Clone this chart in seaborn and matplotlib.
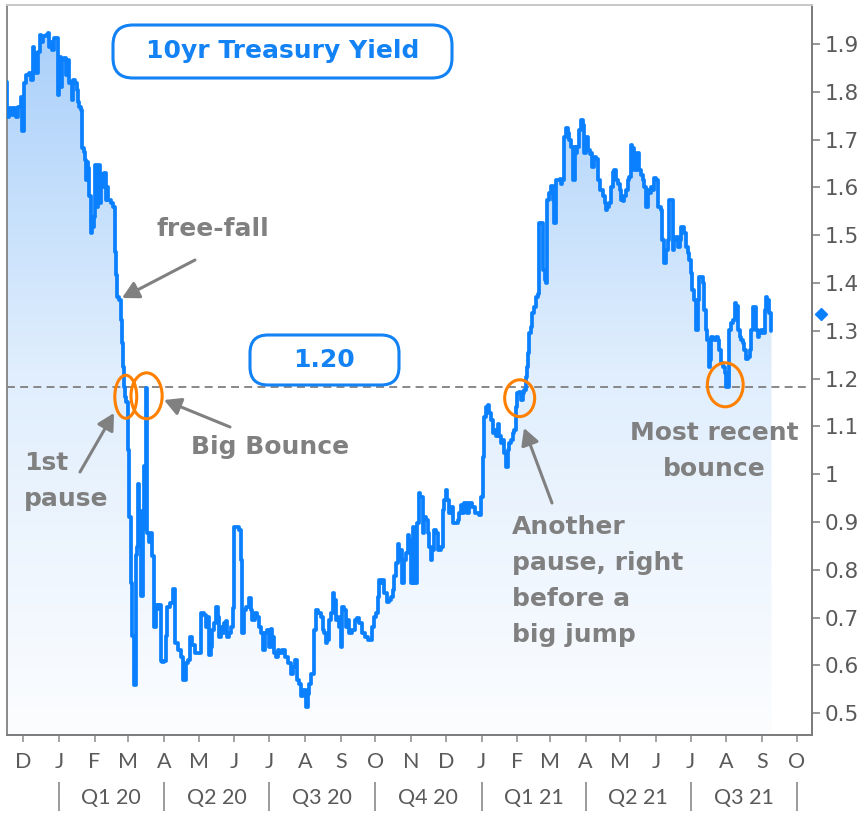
import numpy as np
import pandas as pd
import matplotlib
matplotlib.use("Agg")
import matplotlib.pyplot as plt
import matplotlib.dates as mdates
from matplotlib.patches import Ellipse, FancyBboxPatch
from matplotlib.colors import LinearSegmentedColormap
from matplotlib.transforms import IdentityTransform, blended_transform_factory
import seaborn as sns

# ---------------- data ----------------
dates = [
    "2019-11-17", "2019-11-18", "2019-11-20", "2019-11-23", "2019-11-24", "2019-11-26", "2019-11-28", "2019-11-30",
    "2019-12-01", "2019-12-03", "2019-12-05", "2019-12-07", "2019-12-09", "2019-12-10", "2019-12-11", "2019-12-12",
    "2019-12-13", "2019-12-15", "2019-12-16", "2019-12-18", "2019-12-19", "2019-12-22", "2019-12-23", "2019-12-24",
    "2019-12-26", "2019-12-27", "2019-12-29", "2019-12-30",
    "2020-01-01", "2020-01-02", "2020-01-03", "2020-01-05", "2020-01-06", "2020-01-08", "2020-01-09", "2020-01-11",
    "2020-01-12", "2020-01-13", "2020-01-14", "2020-01-16", "2020-01-17", "2020-01-18", "2020-01-19", "2020-01-21",
    "2020-01-22", "2020-01-23", "2020-01-24", "2020-01-25", "2020-01-26", "2020-01-27", "2020-01-28", "2020-01-29",
    "2020-01-31",
    "2020-02-01", "2020-02-02", "2020-02-03", "2020-02-05", "2020-02-06", "2020-02-07", "2020-02-09", "2020-02-10",
    "2020-02-11", "2020-02-12", "2020-02-14", "2020-02-16", "2020-02-18", "2020-02-19", "2020-02-20", "2020-02-21",
    "2020-02-23", "2020-02-24", "2020-02-25", "2020-02-26", "2020-02-27", "2020-02-28", "2020-02-29",
    "2020-03-01", "2020-03-03", "2020-03-04", "2020-03-05", "2020-03-07", "2020-03-08", "2020-03-09", "2020-03-10",
    "2020-03-11", "2020-03-13", "2020-03-14", "2020-03-16", "2020-03-17", "2020-03-18", "2020-03-20", "2020-03-21",
    "2020-03-23", "2020-03-24", "2020-03-26", "2020-03-27", "2020-03-29", "2020-03-30", "2020-03-31",
    "2020-04-02", "2020-04-03", "2020-04-05", "2020-04-08", "2020-04-09", "2020-04-12", "2020-04-15", "2020-04-16",
    "2020-04-19", "2020-04-21", "2020-04-22", "2020-04-25", "2020-04-26", "2020-04-29",
    "2020-05-02", "2020-05-04", "2020-05-07", "2020-05-08", "2020-05-09", "2020-05-11", "2020-05-12", "2020-05-14",
    "2020-05-15", "2020-05-17", "2020-05-18", "2020-05-20", "2020-05-21", "2020-05-22", "2020-05-24", "2020-05-25",
    "2020-05-27", "2020-05-28", "2020-05-30", "2020-05-31",
    "2020-06-02", "2020-06-04", "2020-06-06", "2020-06-07", "2020-06-08", "2020-06-10", "2020-06-12", "2020-06-15",
    "2020-06-16", "2020-06-17", "2020-06-20", "2020-06-22", "2020-06-23", "2020-06-25", "2020-06-26", "2020-06-29",
    "2020-06-30",
    "2020-07-02", "2020-07-03", "2020-07-05", "2020-07-06", "2020-07-08", "2020-07-09", "2020-07-11", "2020-07-13",
    "2020-07-16", "2020-07-19", "2020-07-21", "2020-07-22", "2020-07-25", "2020-07-26", "2020-07-28", "2020-07-29",
    "2020-08-01", "2020-08-03", "2020-08-04", "2020-08-05", "2020-08-08", "2020-08-10", "2020-08-11", "2020-08-14",
    "2020-08-16", "2020-08-17", "2020-08-18", "2020-08-20", "2020-08-21", "2020-08-23", "2020-08-24", "2020-08-26",
    "2020-08-27", "2020-08-29", "2020-08-30", "2020-08-31",
    "2020-09-02", "2020-09-03", "2020-09-05", "2020-09-06", "2020-09-08", "2020-09-09", "2020-09-12", "2020-09-15",
    "2020-09-16", "2020-09-18", "2020-09-21", "2020-09-24", "2020-09-25", "2020-09-28", "2020-09-29",
    "2020-10-01", "2020-10-02", "2020-10-04", "2020-10-05", "2020-10-07", "2020-10-08", "2020-10-09", "2020-10-11",
    "2020-10-12", "2020-10-14", "2020-10-15", "2020-10-17", "2020-10-18", "2020-10-20", "2020-10-21", "2020-10-22",
    "2020-10-24", "2020-10-25", "2020-10-27", "2020-10-28", "2020-10-30", "2020-10-31",
    "2020-11-02", "2020-11-03", "2020-11-04", "2020-11-06", "2020-11-07", "2020-11-08", "2020-11-10", "2020-11-12",
    "2020-11-13", "2020-11-15", "2020-11-16", "2020-11-17", "2020-11-19", "2020-11-20", "2020-11-22", "2020-11-23",
    "2020-11-25", "2020-11-26", "2020-11-28", "2020-11-29", "2020-11-30",
    "2020-12-02", "2020-12-03", "2020-12-05", "2020-12-06", "2020-12-08", "2020-12-11", "2020-12-12", "2020-12-13",
    "2020-12-15", "2020-12-16", "2020-12-18", "2020-12-21", "2020-12-22", "2020-12-25", "2020-12-28", "2020-12-31",
    "2021-01-01", "2021-01-03", "2021-01-04", "2021-01-06", "2021-01-07", "2021-01-08", "2021-01-10", "2021-01-11",
    "2021-01-13", "2021-01-14", "2021-01-16", "2021-01-17", "2021-01-18", "2021-01-20", "2021-01-21", "2021-01-23",
    "2021-01-24", "2021-01-26", "2021-01-27", "2021-01-29", "2021-01-30", "2021-01-31",
    "2021-02-02", "2021-02-03", "2021-02-05", "2021-02-06", "2021-02-08", "2021-02-09", "2021-02-10", "2021-02-11",
    "2021-02-12", "2021-02-13", "2021-02-15", "2021-02-16", "2021-02-18", "2021-02-19", "2021-02-21", "2021-02-22",
    "2021-02-24", "2021-02-25", "2021-02-26", "2021-02-28",
    "2021-03-01", "2021-03-03", "2021-03-04", "2021-03-06", "2021-03-07", "2021-03-09", "2021-03-10", "2021-03-11",
    "2021-03-13", "2021-03-14", "2021-03-16", "2021-03-17", "2021-03-19", "2021-03-20", "2021-03-22", "2021-03-23",
    "2021-03-24", "2021-03-26", "2021-03-27", "2021-03-29", "2021-03-30",
    "2021-04-01", "2021-04-02", "2021-04-04", "2021-04-05", "2021-04-06", "2021-04-08", "2021-04-09", "2021-04-11",
    "2021-04-12", "2021-04-15", "2021-04-17", "2021-04-18", "2021-04-19", "2021-04-21", "2021-04-22", "2021-04-24",
    "2021-04-25", "2021-04-27", "2021-04-28", "2021-04-30",
    "2021-05-01", "2021-05-03", "2021-05-04", "2021-05-05", "2021-05-07", "2021-05-08", "2021-05-10", "2021-05-11",
    "2021-05-12", "2021-05-14", "2021-05-15", "2021-05-17", "2021-05-18", "2021-05-20", "2021-05-21", "2021-05-23",
    "2021-05-24", "2021-05-26", "2021-05-27", "2021-05-28", "2021-05-30", "2021-05-31",
    "2021-06-02", "2021-06-03", "2021-06-05", "2021-06-06", "2021-06-07", "2021-06-09", "2021-06-10", "2021-06-12",
    "2021-06-13", "2021-06-15", "2021-06-16", "2021-06-18", "2021-06-19", "2021-06-21", "2021-06-22", "2021-06-23",
    "2021-06-25", "2021-06-26", "2021-06-28", "2021-06-29",
    "2021-07-01", "2021-07-02", "2021-07-03", "2021-07-05", "2021-07-06", "2021-07-08", "2021-07-09", "2021-07-11",
    "2021-07-12", "2021-07-14", "2021-07-15", "2021-07-16", "2021-07-17", "2021-07-18", "2021-07-19", "2021-07-21",
    "2021-07-22", "2021-07-24", "2021-07-25", "2021-07-27", "2021-07-28", "2021-07-30", "2021-07-31",
    "2021-08-01", "2021-08-03", "2021-08-04", "2021-08-06", "2021-08-07", "2021-08-09", "2021-08-10", "2021-08-12",
    "2021-08-13", "2021-08-14", "2021-08-16", "2021-08-17", "2021-08-19", "2021-08-20", "2021-08-22", "2021-08-23",
    "2021-08-25", "2021-08-26", "2021-08-27", "2021-08-29", "2021-08-30",
    "2021-09-01", "2021-09-02", "2021-09-04", "2021-09-05", "2021-09-06", "2021-09-08", "2021-09-09",
]

yields = [
    1.821, 1.748, 1.766, 1.751, 1.766, 1.748, 1.769, 1.790,
    1.717, 1.818, 1.835, 1.839, 1.825, 1.894, 1.860, 1.881,
    1.839, 1.884, 1.919, 1.905, 1.917, 1.919, 1.924, 1.894,
    1.905, 1.887, 1.912, 1.912,
    1.793, 1.873, 1.811, 1.867, 1.870, 1.835, 1.867, 1.818,
    1.821, 1.783, 1.825, 1.818, 1.804, 1.779, 1.769, 1.762,
    1.682, 1.675, 1.657, 1.615, 1.654, 1.640, 1.581, 1.504,
    1.518,
    1.539, 1.647, 1.560, 1.647, 1.567, 1.601, 1.629, 1.631,
    1.574, 1.601, 1.574, 1.567, 1.560, 1.465, 1.417, 1.371,
    1.364, 1.323, 1.274, 1.225, 1.183, 1.162, 1.152,
    1.051, 0.911, 0.773, 0.661, 0.559, 0.830, 0.848, 0.979,
    0.923, 0.745, 0.885, 1.017, 1.180, 0.877, 0.858, 0.877,
    0.829, 0.681, 0.726, 0.718, 0.726, 0.609, 0.607,
    0.609, 0.661, 0.723, 0.730, 0.760, 0.646, 0.632, 0.618,
    0.569, 0.604, 0.611, 0.660, 0.643, 0.626,
    0.626, 0.709, 0.706, 0.681, 0.702, 0.622, 0.639, 0.674,
    0.688, 0.723, 0.702, 0.660, 0.681, 0.667, 0.688, 0.692,
    0.660, 0.667, 0.681, 0.720,
    0.890, 0.890, 0.883, 0.821, 0.667, 0.716, 0.723, 0.740,
    0.716, 0.695, 0.709, 0.702, 0.681, 0.667, 0.632, 0.667,
    0.674,
    0.639, 0.677, 0.660, 0.625, 0.618, 0.632, 0.625, 0.632,
    0.618, 0.604, 0.583, 0.597, 0.611, 0.569, 0.562, 0.535,
    0.548, 0.514, 0.541, 0.562, 0.583, 0.674, 0.716, 0.709,
    0.702, 0.674, 0.667, 0.646, 0.653, 0.695, 0.709, 0.751,
    0.737, 0.695, 0.702, 0.681,
    0.639, 0.723, 0.716, 0.681, 0.695, 0.667, 0.674, 0.695,
    0.699, 0.688, 0.667, 0.660, 0.653, 0.653, 0.681,
    0.702, 0.709, 0.744, 0.779, 0.772, 0.779, 0.751, 0.751,
    0.733, 0.737, 0.744, 0.758, 0.786, 0.814, 0.855, 0.821,
    0.842, 0.772, 0.821, 0.835, 0.873, 0.862,
    0.772, 0.890, 0.772, 0.772, 0.897, 0.960, 0.953, 0.876,
    0.911, 0.904, 0.876, 0.848, 0.820, 0.841, 0.883, 0.876,
    0.841, 0.841, 0.848, 0.925, 0.946,
    0.967, 0.946, 0.918, 0.932, 0.897, 0.897, 0.904, 0.918,
    0.936, 0.918, 0.939, 0.918, 0.939, 0.932, 0.918, 0.915,
    0.953, 1.037, 1.120, 1.141, 1.145, 1.127, 1.113, 1.086,
    1.093, 1.079, 1.106, 1.079, 1.065, 1.072, 1.044, 1.016,
    1.051, 1.065, 1.072, 1.086, 1.093, 1.141,
    1.169, 1.172, 1.155, 1.169, 1.176, 1.204, 1.225, 1.253,
    1.295, 1.309, 1.337, 1.350, 1.371, 1.378, 1.525, 1.525,
    1.427, 1.406, 1.399, 1.574,
    1.588, 1.602, 1.574, 1.525, 1.615, 1.615, 1.618, 1.608,
    1.615, 1.706, 1.724, 1.713, 1.699, 1.685, 1.615, 1.685,
    1.671, 1.685, 1.720, 1.741, 1.731,
    1.671, 1.706, 1.678, 1.670, 1.671, 1.643, 1.664, 1.660,
    1.615, 1.595, 1.581, 1.567, 1.553, 1.560, 1.567, 1.601,
    1.633, 1.636, 1.615, 1.608,
    1.595, 1.574, 1.571, 1.581, 1.595, 1.615, 1.622, 1.689,
    1.682, 1.636, 1.636, 1.671, 1.636, 1.626, 1.615, 1.601,
    1.560, 1.595, 1.588, 1.601, 1.595, 1.619,
    1.615, 1.560, 1.560, 1.553, 1.490, 1.441, 1.469, 1.490,
    1.574, 1.574, 1.469, 1.490, 1.497, 1.476, 1.490, 1.518,
    1.518, 1.504, 1.476, 1.462,
    1.448, 1.420, 1.385, 1.364, 1.302, 1.364, 1.413, 1.413,
    1.399, 1.344, 1.302, 1.281, 1.225, 1.239, 1.288, 1.285,
    1.281, 1.288, 1.281, 1.260, 1.232, 1.225, 1.211,
    1.183, 1.183, 1.302, 1.316, 1.323, 1.358, 1.351, 1.302,
    1.288, 1.281, 1.274, 1.260, 1.242, 1.246, 1.260, 1.302,
    1.350, 1.350, 1.302, 1.288, 1.295,
    1.302, 1.295, 1.344, 1.371, 1.364, 1.337, 1.299,
]

title_text = "10yr Treasury Yield"
level_value = 1.183
level_text = "1.20"
latest_value = 1.336

y_ticks = [0.5, 0.6, 0.7, 0.8, 0.9, 1.0, 1.1, 1.2, 1.3, 1.4, 1.5, 1.6, 1.7, 1.8, 1.9]
y_tick_labels = ["0.5", "0.6", "0.7", "0.8", "0.9", "1", "1.1", "1.2", "1.3", "1.4", "1.5", "1.6", "1.7", "1.8", "1.9"]

month_ticks = ["2019-12-01", "2020-01-01", "2020-02-01", "2020-03-01", "2020-04-01", "2020-05-01",
               "2020-06-01", "2020-07-01", "2020-08-01", "2020-09-01", "2020-10-01", "2020-11-01",
               "2020-12-01", "2021-01-01", "2021-02-01", "2021-03-01", "2021-04-01", "2021-05-01",
               "2021-06-01", "2021-07-01", "2021-08-01", "2021-09-01", "2021-10-01"]
month_labels = ["D", "J", "F", "M", "A", "M", "J", "J", "A", "S", "O", "N",
                "D", "J", "F", "M", "A", "M", "J", "J", "A", "S", "O"]

quarter_bounds = ["2020-01-01", "2020-04-01", "2020-07-01", "2020-10-01",
                  "2021-01-01", "2021-04-01", "2021-07-01", "2021-10-01"]
quarter_labels = ["Q1 20", "Q2 20", "Q3 20", "Q4 20", "Q1 21", "Q2 21", "Q3 21"]

# highlighted spots: (center date, center value, width days, height)
circles = [
    ("2020-02-28", 1.162, 19, 0.090),
    ("2020-03-17", 1.164, 27, 0.096),
    ("2021-02-03", 1.159, 26, 0.077),
    ("2021-07-31", 1.187, 31, 0.092),
]

# ---------------- style ----------------
LINE = "#0a80ff"
BOX = "#1282f5"
ORANGE = "#ff8000"
NOTE = "#808080"
AXIS_TXT = "#5a5a5a"

sns.set_style("white")
plt.rcParams["font.family"] = ["DejaVu Sans"]

fig = plt.figure(figsize=(8.64, 8.13), dpi=100)
ax = fig.add_axes([7 / 864, 78 / 813, 805 / 864, 730 / 813])

df = pd.DataFrame({"date": pd.to_datetime(dates), "yield": yields})

y0, y1 = 0.4544, 1.9816
x0, x1 = pd.Timestamp("2019-11-17 04:00"), pd.Timestamp("2021-10-14 02:00")

# gradient area under the line
xnum = mdates.date2num(df["date"])
poly = ax.fill_between(xnum, df["yield"].to_numpy(), y0, step="mid",
                       facecolor="none", edgecolor="none")
clip = poly.get_paths()[0]
grad = np.linspace(0, 1, 256).reshape(-1, 1)
cmap = LinearSegmentedColormap.from_list("fade", ["#fcfdff", "#e0eefd", "#a6cefa"])
im = ax.imshow(grad, extent=[xnum[0], xnum[-1], y0, y1], origin="lower",
               aspect="auto", cmap=cmap, zorder=1, interpolation="bilinear")
im.set_clip_path(clip, transform=ax.transData)

sns.lineplot(data=df, x="date", y="yield", color=LINE, linewidth=2.7,
             estimator=None, sort=False, ax=ax, zorder=3, drawstyle="steps-mid")

ax.axhline(level_value, color="#7f7f7f", lw=1.3, ls=(0, (4.4, 2.9)), zorder=2)

ax.set_xlim(x0, x1)
ax.set_ylim(y0, y1)
ax.set_xlabel("")
ax.set_ylabel("")

# spines
for side, col in [("left", "#8a8a8a"), ("top", "#c8c8c8"), ("right", "#7a7a7a"), ("bottom", "#7a7a7a")]:
    ax.spines[side].set_visible(True)
    ax.spines[side].set_color(col)
    ax.spines[side].set_linewidth(1.4)

# y axis on the right
ax.yaxis.tick_right()
ax.set_yticks(y_ticks)
ax.set_yticklabels(y_tick_labels)
ax.tick_params(axis="y", which="major", left=False, right=True, direction="out",
               length=5.8, width=1.1, color="#7a7a7a", pad=3.0,
               labelsize=15.5, labelcolor=AXIS_TXT)

# x axis months
ax.set_xticks(mdates.date2num(pd.to_datetime(month_ticks)))
ax.set_xticklabels(month_labels)
ax.tick_params(axis="x", which="major", bottom=True, direction="out",
               length=5, width=1.1, color="#8a8a8a", pad=7,
               labelsize=15.5, labelcolor=AXIS_TXT)
for lbl in ax.get_xticklabels():
    lbl.set_fontfamily("Lato")

# quarter row
xtrans = ax.get_xaxis_transform()
qb = pd.to_datetime(quarter_bounds)
ax.vlines(mdates.date2num(qb), -0.064, -0.104, transform=xtrans, colors="#8a8a8a",
          lw=1.2, clip_on=False)
for a, b, lab in zip(qb[:-1], qb[1:], quarter_labels):
    mid = a + (b - a) / 2
    ax.text(mdates.date2num(mid), -0.086, lab, transform=xtrans, ha="center", va="center",
            fontsize=15.5, family="Lato", color=AXIS_TXT, clip_on=False)

# latest-value marker on the right axis
mtrans = blended_transform_factory(ax.transAxes, ax.transData)
ax.plot([1.0112], [latest_value], marker="D", ms=6.5, color=LINE, transform=mtrans,
        clip_on=False, zorder=6)

# orange circles
for d, v, w, h in circles:
    ax.add_patch(Ellipse((mdates.date2num(pd.Timestamp(d)), v), w, h, fill=False,
                         ec=ORANGE, lw=2.2, zorder=5, clip_on=False))

# rounded boxes (figure pixels, origin bottom-left)
ident = IdentityTransform()
fig.add_artist(FancyBboxPatch((113, 735), 339, 53, boxstyle="round,pad=0,rounding_size=20",
                              transform=ident, fc="white", ec=BOX, lw=2.2, zorder=4))
fig.text(283, 762, title_text, transform=ident, ha="center", va="center",
         fontsize=18, fontweight="bold", color=BOX, zorder=5)
fig.add_artist(FancyBboxPatch((250, 428), 149, 50, boxstyle="round,pad=0,rounding_size=18",
                              transform=ident, fc="white", ec=BOX, lw=2.2, zorder=4))
fig.text(324, 453, level_text, transform=ident, ha="center", va="center",
         fontsize=18, fontweight="bold", color=BOX, zorder=5)

# annotations
note_kw = dict(fontsize=18, fontweight="bold", color=NOTE, zorder=6)
arrow_kw = dict(arrowstyle="-|>,head_length=0.5,head_width=0.27", color=NOTE, lw=2.2,
                shrinkA=0, shrinkB=0, mutation_scale=20)

fig.text(213, 584, "free-fall", transform=ident, ha="center", va="center", **note_kw)
fig.text(270, 366, "Big Bounce", transform=ident, ha="center", va="center", **note_kw)
fig.text(24, 332, "1st\npause", transform=ident, ha="left", va="center", linespacing=1.6, **note_kw)
fig.text(512, 232, "Another\npause, right\nbefore a\nbig jump", transform=ident, ha="left",
         va="center", linespacing=1.62, **note_kw)
fig.text(714, 362, "Most recent\nbounce", transform=ident, ha="center", va="center",
         multialignment="center", linespacing=1.6, **note_kw)

for tail, head in [((195, 553), (122, 515)),
                   ((230, 386), (164, 413)),
                   ((80, 341), (114, 400)),
                   ((552, 310), (524, 385))]:
    ax.annotate("", xy=head, xycoords="figure pixels", xytext=tail, textcoords="figure pixels",
                arrowprops=arrow_kw, annotation_clip=False, zorder=6)

fig.savefig("out.png", dpi=100)
